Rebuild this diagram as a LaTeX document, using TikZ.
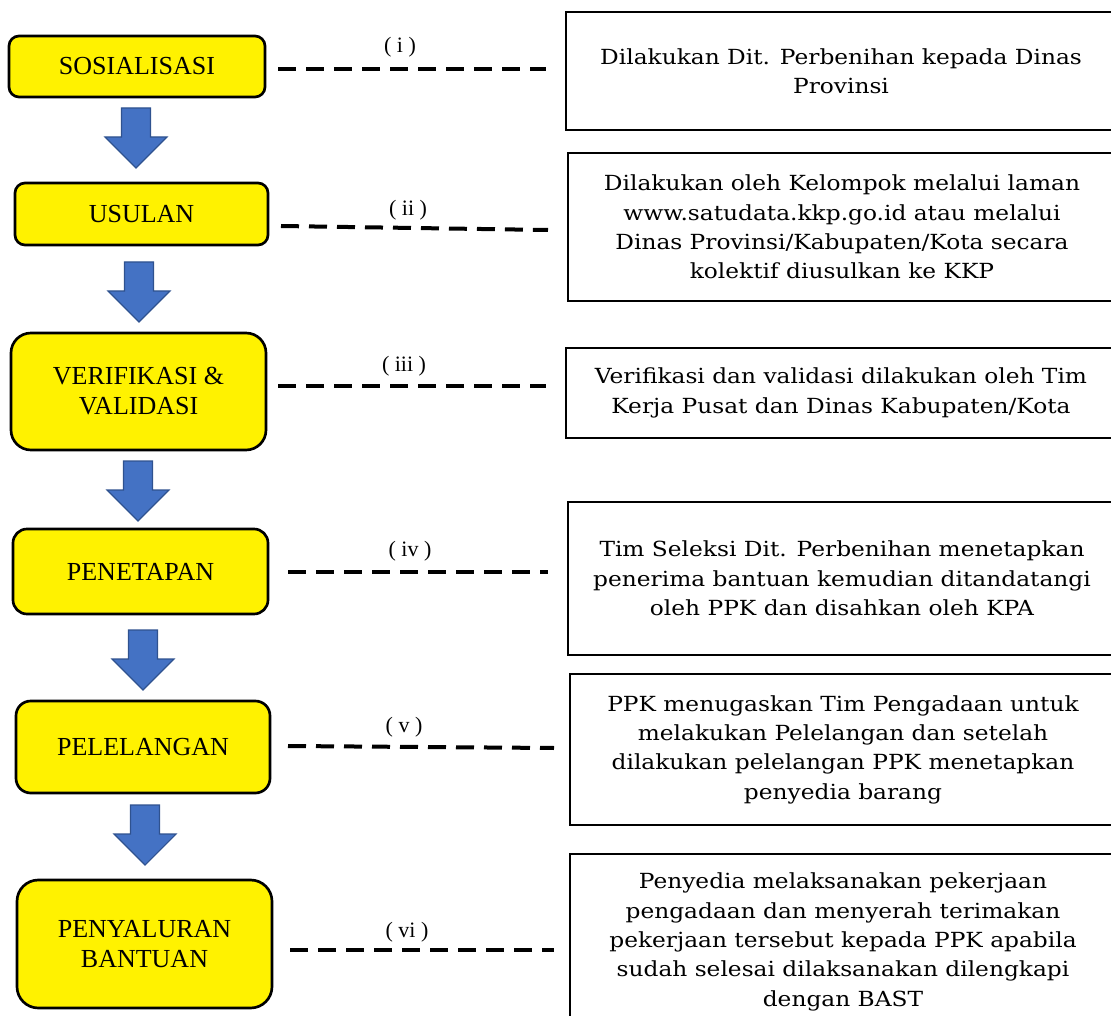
\documentclass[tikz,border=0pt]{standalone}
\usepackage{fontspec}
\setmainfont{Liberation Serif}
\newfontfamily\rfont[FakeStretch=1.12]{DejaVu Serif}
\definecolor{arrowblue}{HTML}{4472C4}
\definecolor{arrowedge}{HTML}{2F528F}
\tikzset{
  stage/.style={draw=black, line width=2pt, fill=yellow, align=center,
    inner sep=0pt, font=\fontsize{19.5}{22.5}\selectfont},
  desc/.style={draw=black, line width=1.8pt, fill=white, align=center,
    inner sep=0pt, font=\rfont\fontsize{15.6}{22}\selectfont},
  blockarrow/.style={draw=arrowedge, line width=0.8pt, fill=arrowblue, line join=miter},
  dashline/.style={line width=3pt, dash pattern=on 13.5pt off 7.5pt},
  steplabel/.style={font=\fontsize{16.5}{18}\selectfont, inner sep=0pt}
}
\newcommand{\downarrowshape}[1]{%
  \draw[blockarrow] (#1) ++(-14.5,0) -- ++(29,0) -- ++(0,29) -- ++(16.5,0)
    -- ++(-31,31) -- ++(-31,-31) -- ++(16.5,0) -- cycle;}
\begin{document}
\begin{tikzpicture}[x=0.75pt, y=-0.75pt]
\useasboundingbox (0,0) rectangle (1111,1016);
% ---------- stages ----------
\node[stage, rounded corners=7.5pt, minimum width={256*0.75pt}, minimum height={61*0.75pt}] (s1) at (137,66.5) {SOSIALISASI};
\node[stage, rounded corners=7.5pt, minimum width={253*0.75pt}, minimum height={62*0.75pt}] (s2) at (141.5,214) {USULAN};
\node[stage, rounded corners=15pt, minimum width={255*0.75pt}, minimum height={117*0.75pt}] (s3) at (138.5,391.5) {VERIFIKASI \&\\VALIDASI};
\node[stage, rounded corners=10.5pt, minimum width={255*0.75pt}, minimum height={85*0.75pt}] (s4) at (140.5,571.5) {PENETAPAN};
\node[stage, rounded corners=11pt, minimum width={254*0.75pt}, minimum height={92*0.75pt}] (s5) at (143,747) {PELELANGAN};
\node[stage, rounded corners=16pt, minimum width={255*0.75pt}, minimum height={128*0.75pt}] (s6) at (144.5,944) {PENYALURAN\\BANTUAN};
% ---------- block arrows ----------
\coordinate (a1) at (136,108);
\coordinate (a2) at (139,262);
\coordinate (a3) at (138,461);
\coordinate (a4) at (143,630);
\coordinate (a5) at (145,805);
\downarrowshape{a1}
\downarrowshape{a2}
\downarrowshape{a3}
\downarrowshape{a4}
\downarrowshape{a5}
% ---------- descriptions ----------
\begin{scope}
\clip (0,0) rectangle (1111,1016);
\node[desc, minimum width={550*0.75pt}, minimum height={118*0.75pt}] (r1) at (841,71)
  {Dilakukan Dit. Perbenihan kepada Dinas\\Provinsi};
\node[desc, minimum width={548*0.75pt}, minimum height={148*0.75pt}] (r2) at (842,227)
  {Dilakukan oleh Kelompok melalui laman\\www.satudata.kkp.go.id atau melalui\\Dinas Provinsi/Kabupaten/Kota secara\\kolektif diusulkan ke KKP};
\node[desc, minimum width={550*0.75pt}, minimum height={90*0.75pt}] (r3) at (841,393)
  {Verifikasi dan validasi dilakukan oleh Tim\\Kerja Pusat dan Dinas Kabupaten/Kota};
\node[desc, minimum width={548*0.75pt}, minimum height={153*0.75pt}] (r4) at (842,578.5)
  {Tim Seleksi Dit. Perbenihan menetapkan\\penerima bantuan kemudian ditandatangi\\oleh PPK dan disahkan oleh KPA};
\node[desc, minimum width={546*0.75pt}, minimum height={151*0.75pt}] (r5) at (843,749.5)
  {PPK menugaskan Tim Pengadaan untuk\\melakukan Pelelangan dan setelah\\dilakukan pelelangan PPK menetapkan\\penyedia barang};
\node[desc, minimum width={546*0.75pt}, minimum height={176*0.75pt}] (r6) at (843,942)
  {Penyedia melaksanakan pekerjaan\\pengadaan dan menyerah terimakan\\pekerjaan tersebut kepada PPK apabila\\sudah selesai dilaksanakan dilengkapi\\dengan BAST};
\end{scope}
% ---------- dashed links ----------
\coordinate (d1a) at (278,69);  \coordinate (d1b) at (546,69);
\coordinate (d2a) at (281,226); \coordinate (d2b) at (548,230);
\coordinate (d3a) at (278,386); \coordinate (d3b) at (546,386);
\coordinate (d4a) at (288,572); \coordinate (d4b) at (548,572);
\coordinate (d5a) at (288,746); \coordinate (d5b) at (554,748);
\coordinate (d6a) at (290,950); \coordinate (d6b) at (554,950);
\draw[dashline] (d1a) -- (d1b);
\draw[dashline] (d2a) -- (d2b);
\draw[dashline] (d3a) -- (d3b);
\draw[dashline] (d4a) -- (d4b);
\draw[dashline] (d5a) -- (d5b);
\draw[dashline] (d6a) -- (d6b);
\node[steplabel] (l1) at (400,47) {( i )};
\node[steplabel] (l2) at (408,210) {( ii )};
\node[steplabel] (l3) at (404,366) {( iii )};
\node[steplabel] (l4) at (410,551) {( iv )};
\node[steplabel] (l5) at (404,727) {( v )};
\node[steplabel] (l6) at (407,932) {( vi )};
\end{tikzpicture}
\end{document}
